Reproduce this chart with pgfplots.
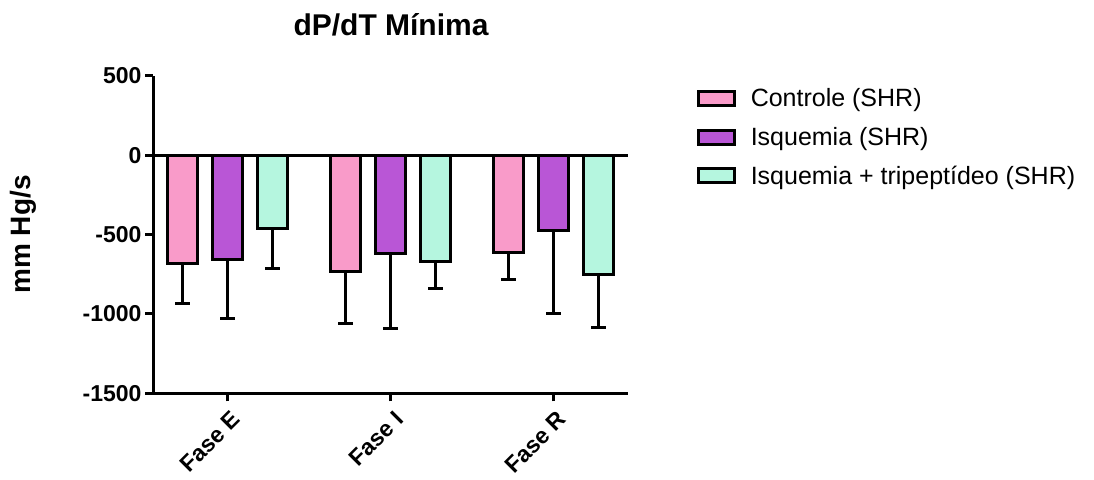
\documentclass[border=0pt]{standalone}
\usepackage{pgfplots}
\pgfplotsset{compat=1.18}
\usepackage{fontspec}
\setmainfont{Liberation Sans}
\definecolor{cpink}{RGB}{249,155,201}
\definecolor{cpurple}{RGB}{185,86,214}
\definecolor{cmint}{RGB}{181,246,223}
\begin{document}
\begin{tikzpicture}[x=1pt,y=1pt]
\useasboundingbox (0,0) rectangle (1094,479);
\begin{axis}[
  at={(153pt,85.7pt)}, anchor=south west,
  scale only axis, width=475pt, height=317.6pt,
  xmin=-0.454, xmax=2.46, ymin=-1500, ymax=500,
  axis x line=bottom, axis y line=left,
  axis line style={-, line width=3pt},
  ytick={-1500,-1000,-500,0,500}, yticklabels={-1500,-1000,-500,0,500},
  xtick={0,1,2}, xticklabels={Fase E, Fase I, Fase R},
  tick align=outside, major tick length=8pt,
  tick style={line width=3pt, black},
  minor tick num=0,
  tick label style={font=\fontsize{23}{27}\selectfont\bfseries},
  xticklabel style={rotate=45, anchor=north east, yshift=-5pt, xshift=0pt, font=\fontsize{23}{27}\selectfont\bfseries},
  ylabel={mm Hg/s},
  ylabel style={at={(axis description cs:-0.274,0.5)}, anchor=center, font=\fontsize{28}{32}\selectfont\bfseries},
  ybar=15pt, bar width=30pt,
  legend style={at={(axis description cs:1.138,0.972)}, anchor=north west, draw=none, fill=none,
    font=\fontsize{25}{29}\selectfont, row sep=15pt},
  legend cell align=left,
  legend image code/.code={\draw[#1, line width=3pt] (0pt,-7pt) rectangle (36pt,7pt); \path (49pt,0pt);},
]
\addplot+[fill=cpink, draw=black, line width=3pt,
  error bars/.cd, y dir=minus, y explicit,
  error bar style={line width=3pt, black},
  error mark options={rotate=90, mark size=7.5pt, line width=3pt, black}]
  coordinates {(0,-682) +- (0,254) (1,-732) +- (0,330) (2,-613) +- (0,168)};
\addplot+[fill=cpurple, draw=black, line width=3pt,
  error bars/.cd, y dir=minus, y explicit,
  error bar style={line width=3pt, black},
  error mark options={rotate=90, mark size=7.5pt, line width=3pt, black}]
  coordinates {(0,-657) +- (0,369) (1,-621) +- (0,470) (2,-476) +- (0,521)};
\addplot+[fill=cmint, draw=black, line width=3pt,
  error bars/.cd, y dir=minus, y explicit,
  error bar style={line width=3pt, black},
  error mark options={rotate=90, mark size=7.5pt, line width=3pt, black}]
  coordinates {(0,-464) +- (0,249) (1,-673) +- (0,166) (2,-749) +- (0,338)};
\legend{Controle (SHR), Isquemia (SHR), Isquemia + tripeptídeo (SHR)}
\draw[line width=3pt] (rel axis cs:0,0.75) -- (rel axis cs:1,0.75);
\end{axis}
\node[anchor=base, font=\fontsize{30}{34}\selectfont\bfseries] at (391,443) {dP/dT Mínima};
\end{tikzpicture}
\end{document}
